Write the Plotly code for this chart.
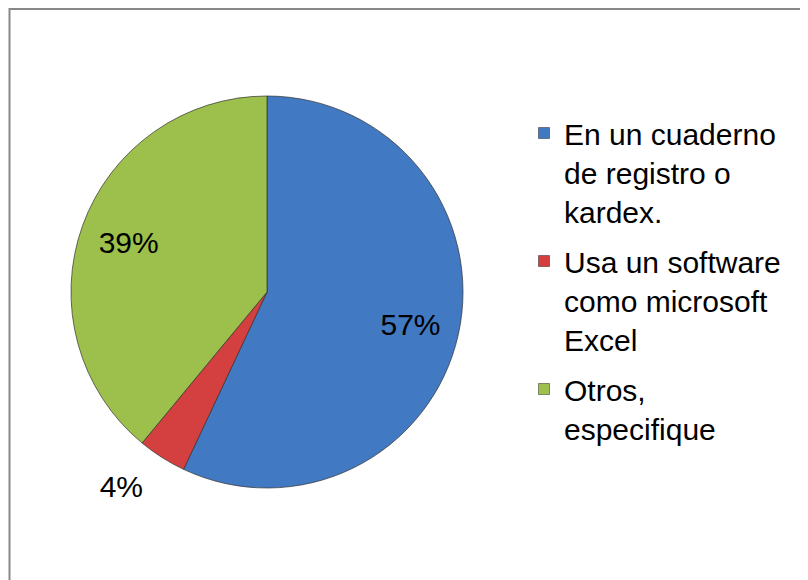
import plotly.graph_objects as go

labels = ["En un cuaderno<br>de registro o<br>kardex.",
          "Usa un software<br>como microsoft<br>Excel",
          "Otros,<br>especifique"]
values = [57, 4, 39]
colors = ["#4179C2", "#D4403F", "#9CC04B"]

W, H = 808, 580
OFF = 8  # page body margin
FONT = "Liberation Sans, Arial, sans-serif"

cx, cy, r = 267 - OFF, 292 - OFF, 196


def domain(rad):
    return dict(x=[(cx - rad) / W, (cx + rad) / W],
                y=[1 - (cy + rad) / H, 1 - (cy - rad) / H])


common = dict(labels=labels, values=values, sort=False, direction="clockwise",
              rotation=0, textinfo="percent", showlegend=False,
              textfont=dict(family=FONT, size=30, color="black"))

fig = go.Figure()
# visible pie
fig.add_trace(go.Pie(
    **common,
    textposition="none",
    marker=dict(colors=colors, line=dict(color="rgba(50,50,50,0.7)", width=1)),
    domain=domain(r), hoverinfo="label+percent",
))
# transparent ring overlay: labels of the big slices
fig.add_trace(go.Pie(
    **common,
    hole=0.5,
    textposition=["inside", "none", "inside"],
    insidetextorientation="horizontal",
    marker=dict(colors=["rgba(0,0,0,0)"] * 3, line=dict(width=0)),
    domain=domain(r), hoverinfo="skip",
))
# transparent slightly larger overlay: outside label of the small slice
fig.add_trace(go.Pie(
    **common,
    textposition=["none", "outside", "none"],
    marker=dict(colors=["rgba(0,0,0,0)"] * 3, line=dict(width=0)),
    domain=domain(r + 20), hoverinfo="skip",
))
# legend entries
for lab, col in zip(labels, colors):
    fig.add_trace(go.Scatter(
        x=[None], y=[None], mode="markers", name=lab, legendgroup=lab,
        marker=dict(symbol="square", size=11, color=col,
                    line=dict(color="rgba(40,40,40,0.5)", width=1)),
    ))

fig.update_layout(
    width=W, height=H,
    margin=dict(l=0, r=0, t=0, b=0),
    paper_bgcolor="white",
    plot_bgcolor="white",
    xaxis=dict(visible=False),
    yaxis=dict(visible=False),
    legend=dict(
        x=516 / W, y=1 - 99 / H, xanchor="left", yanchor="top",
        valign="top", tracegroupgap=8,
        font=dict(family=FONT, size=30, color="black"),
        bgcolor="rgba(0,0,0,0)",
    ),
    shapes=[dict(type="rect", xref="paper", yref="paper",
                 x0=1.5 / W, x1=1.05, y0=-0.05, y1=1 - 1 / H,
                 line=dict(color="#888888", width=2))],
)

fig.write_html("out.html")
